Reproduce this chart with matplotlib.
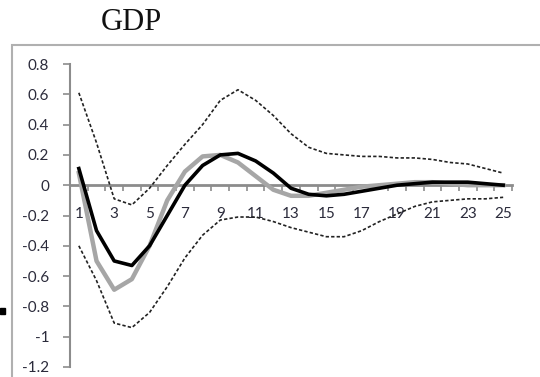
import matplotlib.pyplot as plt
from matplotlib.patches import Rectangle
import numpy as np

# horizon (quarters)
periods = list(range(1, 26))

# impulse response of GDP: point estimate, alternative model, error bands
irf_main = [0.11, -0.30, -0.50, -0.53, -0.40, -0.20, 0.00, 0.13, 0.20, 0.21,
            0.16, 0.08, -0.02, -0.06, -0.07, -0.06, -0.04, -0.02, 0.00, 0.01,
            0.02, 0.02, 0.02, 0.01, 0.00]
irf_alt = [0.08, -0.50, -0.69, -0.62, -0.40, -0.10, 0.09, 0.19, 0.20, 0.15,
           0.06, -0.03, -0.07, -0.07, -0.05, -0.03, -0.01, 0.00, 0.01, 0.02,
           0.02, 0.01, 0.00, 0.00, 0.00]
upper = [0.61, 0.28, -0.09, -0.13, -0.02, 0.13, 0.27, 0.40, 0.56, 0.63,
         0.56, 0.46, 0.34, 0.25, 0.21, 0.20, 0.19, 0.19, 0.18, 0.18,
         0.17, 0.15, 0.14, 0.11, 0.08]
lower = [-0.40, -0.63, -0.91, -0.94, -0.84, -0.67, -0.48, -0.33, -0.23, -0.21,
         -0.21, -0.24, -0.28, -0.31, -0.34, -0.34, -0.30, -0.24, -0.19, -0.14,
         -0.11, -0.10, -0.09, -0.09, -0.08]

yticks = [0.8, 0.6, 0.4, 0.2, 0, -0.2, -0.4, -0.6, -0.8, -1, -1.2]

fig = plt.figure(figsize=(5.4, 3.77), dpi=100)
ax = fig.add_axes([70 / 540, 10 / 377, 442 / 540, 303 / 377])

# chart frame (cropped on right and bottom)
fig.patches.append(Rectangle((11.5 / 540, -0.1), 1.2, (377 - 45) / 377 + 0.1,
                             transform=fig.transFigure, fill=False,
                             edgecolor='#b0b0b0', linewidth=1.5))
fig.patches.append(Rectangle((0, 63 / 377), 5 / 540, 6 / 377,
                             transform=fig.transFigure, color='black'))

ax.plot(periods, upper, color='#222222', lw=1.2, ls=(0, (2, 1.3)))
ax.plot(periods, lower, color='#222222', lw=1.2, ls=(0, (2, 1.3)))
ax.plot(periods, irf_alt, color='#a6a6a6', lw=3.2, solid_joinstyle='round')
ax.plot(periods, irf_main, color='black', lw=2.6, solid_joinstyle='round')

ax.set_xlim(0.5, 25.5)
ax.set_ylim(-1.2, 0.8)
ax.spines['top'].set_visible(False)
ax.spines['right'].set_visible(False)
ax.spines['bottom'].set_position(('data', 0))
ax.spines['bottom'].set_color('#8c8c8c')
ax.spines['bottom'].set_linewidth(2)
ax.spines['left'].set_color('#8c8c8c')
ax.spines['left'].set_linewidth(1.5)
ax.spines['left'].set_zorder(0)
ax.spines['bottom'].set_zorder(0)

ax.set_yticks(yticks)
ax.set_yticklabels([f'{v:g}' for v in yticks])
ax.set_xticks(periods[::2])
ax.set_xticklabels([str(p) for p in periods[::2]])
ax.set_xticks(np.arange(0.5, 26, 1), minor=True)
ax.tick_params(axis='x', which='major', length=0, pad=16, labelsize=11,
               labelcolor='#2b2b3b')
ax.tick_params(axis='x', which='minor', length=4, width=1.2, color='#8c8c8c',
               direction='out')
ax.tick_params(axis='y', length=5, width=1.2, color='#8c8c8c', pad=10,
               labelsize=11, labelcolor='#2b2b3b')
for lab in ax.get_xticklabels() + ax.get_yticklabels():
    lab.set_fontfamily('Lato')

fig.text(131 / 540, 1 - 22 / 377, 'GDP', family='Liberation Serif', fontsize=22,
         ha='center', va='center', color='#111111')

fig.savefig('out.png', dpi=100)
